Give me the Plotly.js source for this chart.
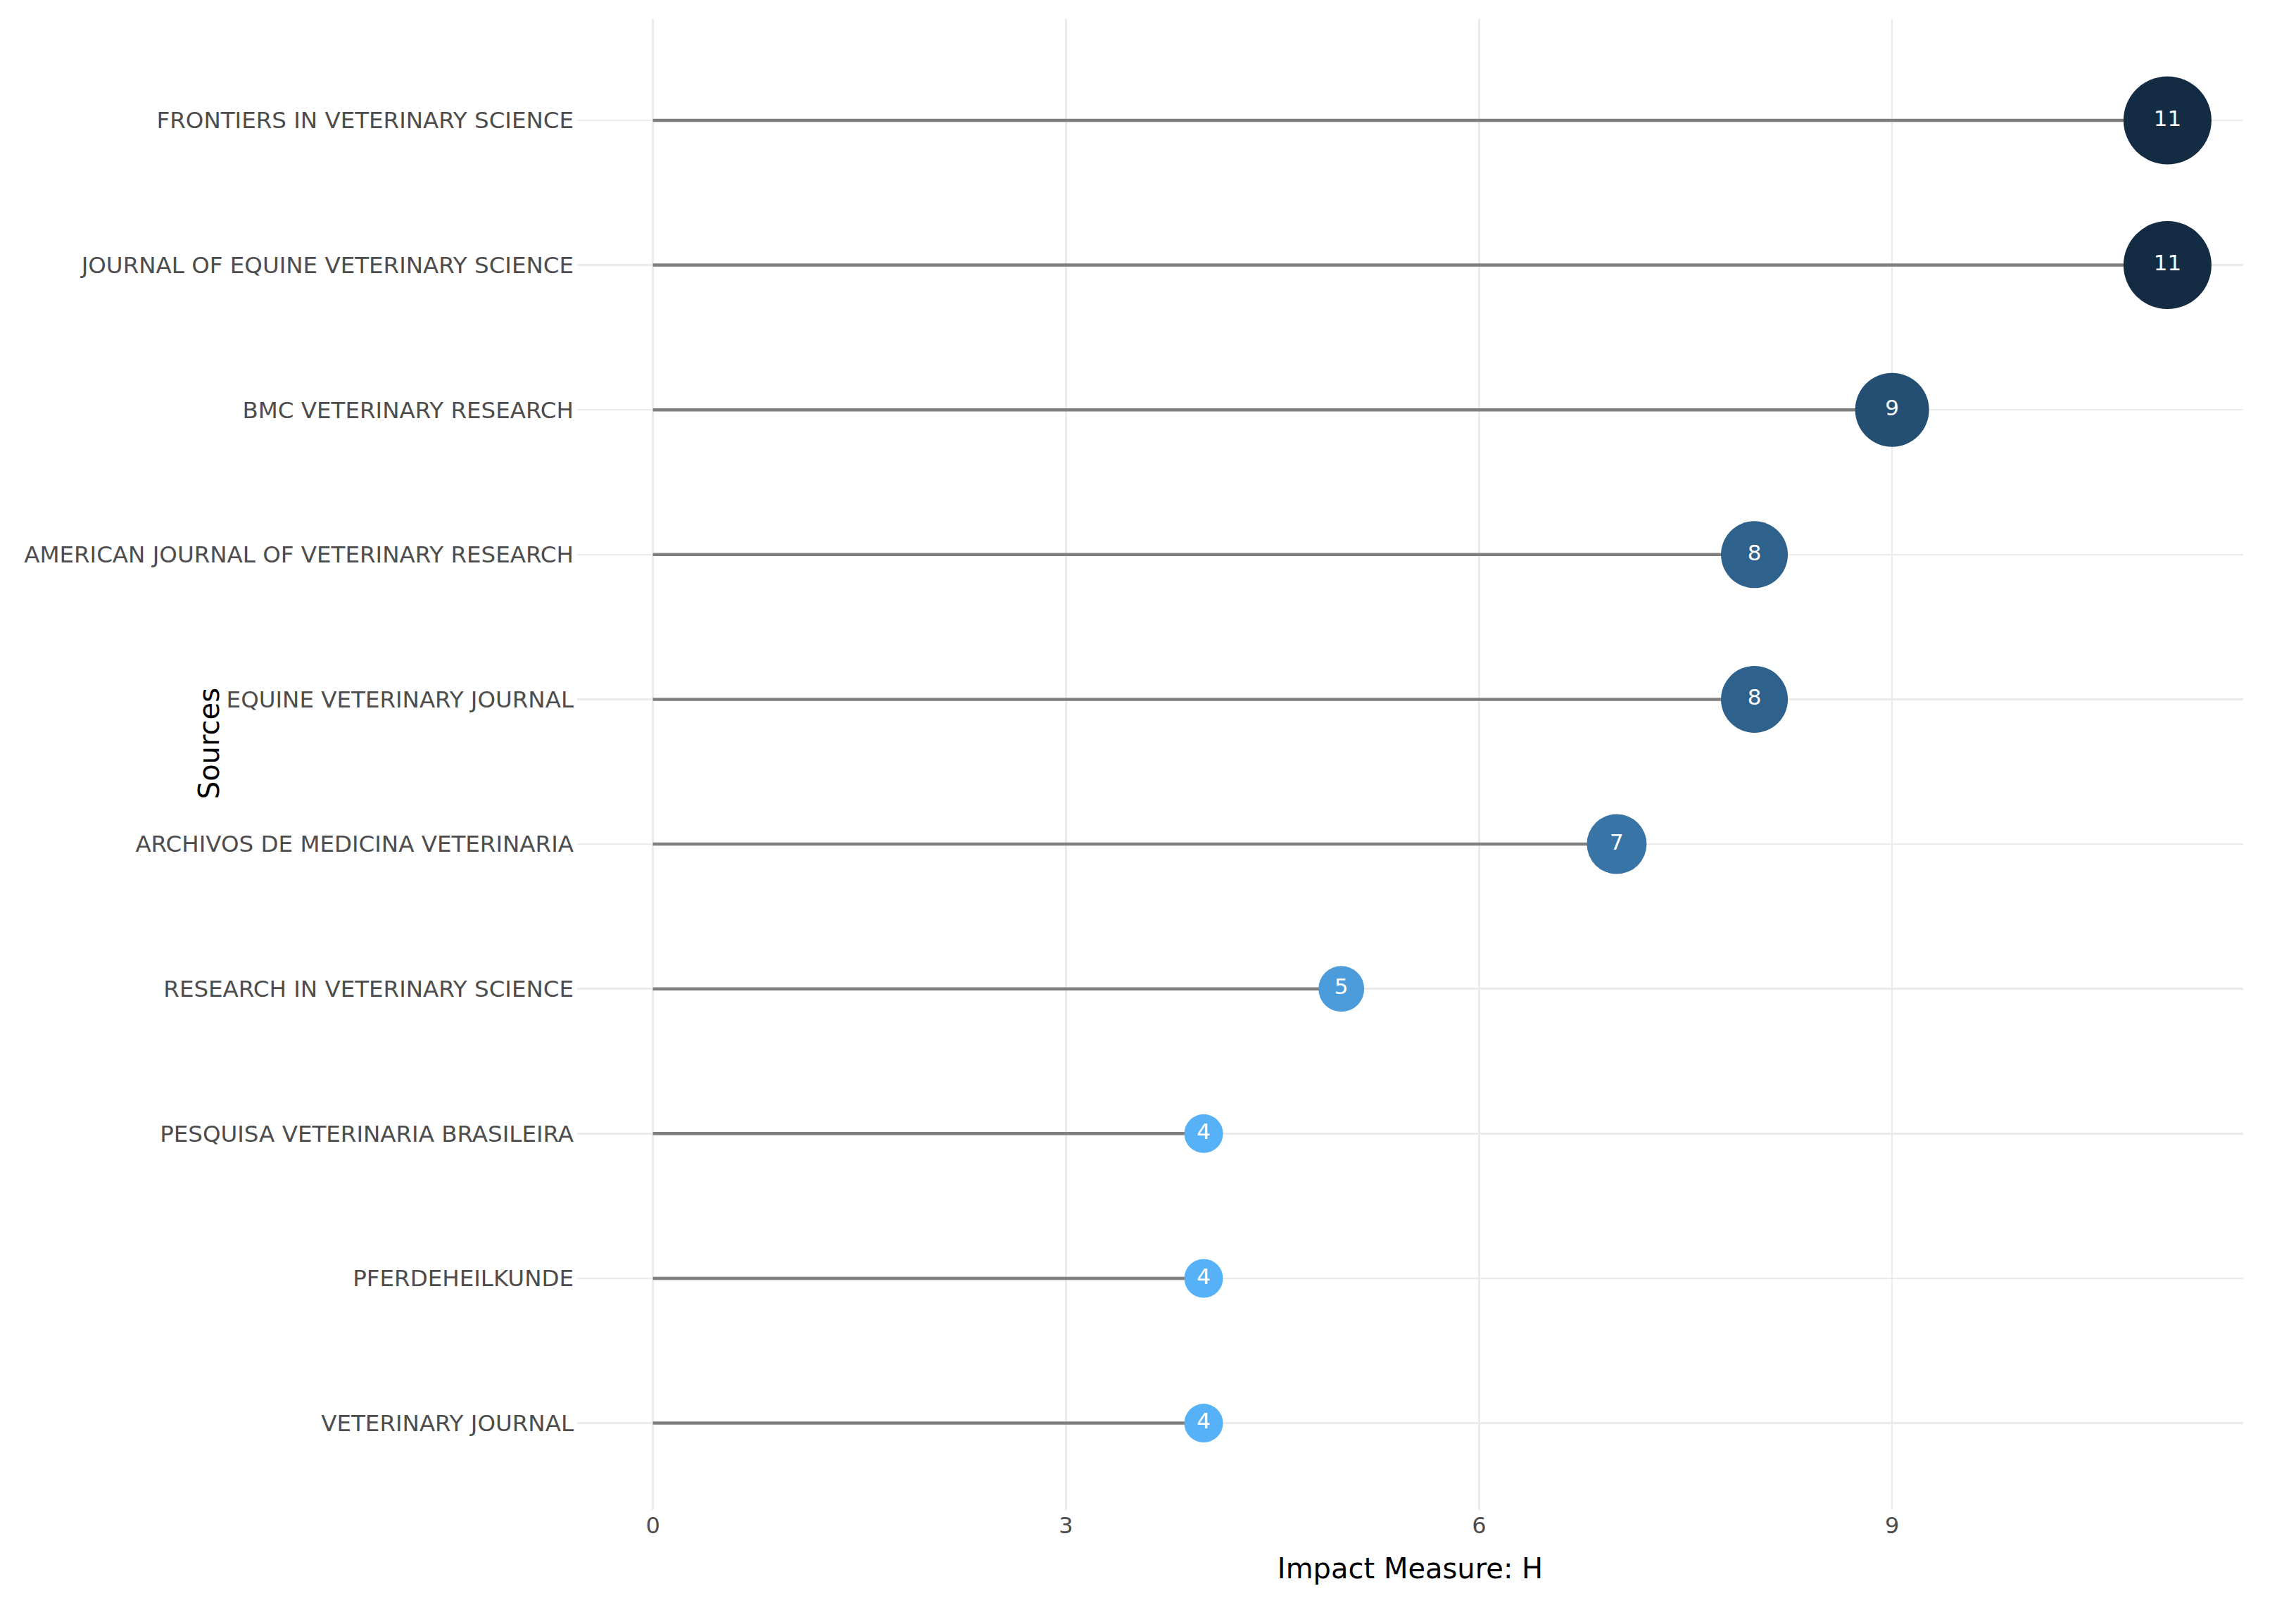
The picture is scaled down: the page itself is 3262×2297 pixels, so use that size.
<!DOCTYPE html>
<html>
<head>
<meta charset="utf-8">
<script src="https://cdn.plot.ly/plotly-3.0.1.min.js"></script>
<style>html,body{margin:0;padding:0;background:#fff;}#chart{width:3262px;height:2297px;}</style>
</head>
<body>
<div id="chart"></div>
<script>
// Data (top to bottom as shown)
const sources = [
  "FRONTIERS IN VETERINARY SCIENCE",
  "JOURNAL OF EQUINE VETERINARY SCIENCE",
  "BMC VETERINARY RESEARCH",
  "AMERICAN JOURNAL OF VETERINARY RESEARCH",
  "EQUINE VETERINARY JOURNAL",
  "ARCHIVOS DE MEDICINA VETERINARIA",
  "RESEARCH IN VETERINARY SCIENCE",
  "PESQUISA VETERINARIA BRASILEIRA",
  "PFERDEHEILKUNDE",
  "VETERINARY JOURNAL"
];
const hIndex = [11, 11, 9, 8, 8, 7, 5, 4, 4, 4];
const xTicks = [0, 3, 6, 9];

// ggplot-like Lab interpolated gradient (#56B1F7 low -> #132B43 high)
function hex2rgb(h){h=h.replace('#','');return [0,2,4].map(i=>parseInt(h.substr(i,2),16)/255);}
function lin(c){return c<=0.04045?c/12.92:Math.pow((c+0.055)/1.055,2.4);}
function delin(c){return c<=0.0031308?12.92*c:1.055*Math.pow(c,1/2.4)-0.055;}
function rgb2lab(rgb){
  const [r,g,b]=rgb.map(lin);
  let X=(0.4124*r+0.3576*g+0.1805*b)/0.95047,Y=(0.2126*r+0.7152*g+0.0722*b),Z=(0.0193*r+0.1192*g+0.9505*b)/1.08883;
  const f=t=>t>0.008856?Math.cbrt(t):7.787*t+16/116;
  return [116*f(Y)-16,500*(f(X)-f(Y)),200*(f(Y)-f(Z))];
}
function lab2rgb(lab){
  const fy=(lab[0]+16)/116,fx=fy+lab[1]/500,fz=fy-lab[2]/200;
  const fi=t=>t*t*t>0.008856?t*t*t:(t-16/116)/7.787;
  const X=fi(fx)*0.95047,Y=fi(fy),Z=fi(fz)*1.08883;
  let r=3.2406*X-1.5372*Y-0.4986*Z,g=-0.9689*X+1.8758*Y+0.0415*Z,b=0.0557*X-0.2040*Y+1.0570*Z;
  return [r,g,b].map(c=>Math.round(Math.max(0,Math.min(1,delin(c)))*255));
}
const lowLab=rgb2lab(hex2rgb('#56B1F7')),highLab=rgb2lab(hex2rgb('#132B43'));
const colorscale=[];
for(let i=0;i<=10;i++){const t=i/10;const lab=lowLab.map((v,k)=>v+(highLab[k]-v)*t);const c=lab2rgb(lab);colorscale.push([t,'rgb('+c.join(',')+')']);}

const vmin=Math.min(...hIndex),vmax=Math.max(...hIndex);
const sizes=hIndex.map(v=>55+10*(v-vmin));

// segments
const segX=[],segY=[];
sources.forEach((s,i)=>{segX.push(0,hIndex[i],null);segY.push(s,s,null);});

const FONT='DejaVu Sans, Verdana, sans-serif';
const traces=[
  {type:'scatter',mode:'lines',x:segX,y:segY,line:{color:'#7F7F7F',width:4.5},hoverinfo:'skip',showlegend:false},
  {type:'scatter',mode:'markers+text',x:hIndex,y:sources,text:hIndex.map(String),textposition:'middle center',
   textfont:{family:FONT,size:31,color:'#FFFFFF'},
   marker:{size:sizes,sizemode:'diameter',color:hIndex,cmin:vmin,cmax:vmax,colorscale:colorscale,line:{width:0},opacity:1},
   showlegend:false}
];

const catOrder=sources.slice().reverse();
const layout={
  width:3262,height:2297,
  margin:{l:820,r:75,t:27,b:152,pad:0},
  paper_bgcolor:'#FFFFFF',plot_bgcolor:'#FFFFFF',
  font:{family:FONT,color:'#4D4D4D',size:32},
  showlegend:false,
  xaxis:{range:[-0.55,11.55],tickvals:xTicks,ticktext:xTicks.map(String),showgrid:true,gridcolor:'#EBEBEB',gridwidth:2.5,
    zeroline:false,showline:false,ticks:'',
    tickfont:{family:FONT,size:32,color:'#4D4D4D'},
    title:{text:'Impact Measure: H',font:{family:FONT,size:40,color:'#000000'},standoff:28}},
  yaxis:{type:'category',categoryorder:'array',categoryarray:catOrder,range:[-0.6,9.7],showgrid:true,gridcolor:'#EBEBEB',gridwidth:2.5,
    zeroline:false,showline:false,ticks:'',ticklabelstandoff:4,
    tickfont:{family:FONT,size:32.5,color:'#4D4D4D'}},
  annotations:[{text:'Sources',xref:'paper',yref:'paper',x:-0.221,y:0.514,xanchor:'center',yanchor:'middle',textangle:-90,
    showarrow:false,font:{size:40,color:'#000000',family:FONT}}]
};
Plotly.newPlot('chart',traces,layout,{displayModeBar:false,staticPlot:true});
</script>
</body>
</html>
